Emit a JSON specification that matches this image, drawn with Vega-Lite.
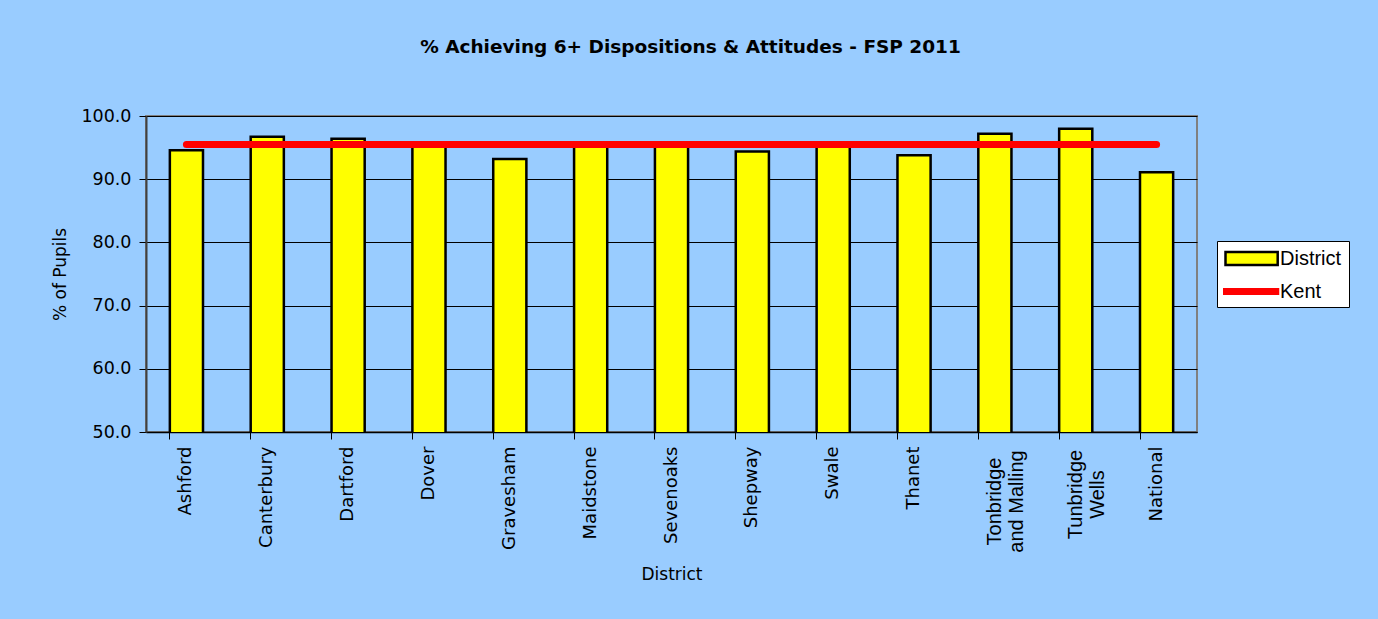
{
  "$schema": "https://vega.github.io/schema/vega-lite/v6.json",
  "width": 1051,
  "height": 316,
  "autosize": {"type": "none"},
  "padding": {"left": 146, "top": 116, "right": 181, "bottom": 187},
  "background": "#99CCFF",
  "config": {
    "font": "DejaVu Sans",
    "view": {"stroke": "#808080", "strokeWidth": 2, "fill": "#99CCFF"}
  },
  "title": {
    "text": "% Achieving 6+ Dispositions & Attitudes - FSP 2011",
    "font": "DejaVu Sans",
    "fontSize": 18.5,
    "fontWeight": "bold",
    "color": "#000000",
    "anchor": "middle",
    "dx": 19,
    "offset": 51
  },
  "data": {
    "values": [
      {"district": "Ashford", "value": 94.6, "kent": 95.5},
      {"district": "Canterbury", "value": 96.7, "kent": 95.5},
      {"district": "Dartford", "value": 96.4, "kent": 95.5},
      {"district": "Dover", "value": 95.8, "kent": 95.5},
      {"district": "Gravesham", "value": 93.2, "kent": 95.5},
      {"district": "Maidstone", "value": 95.7, "kent": 95.5},
      {"district": "Sevenoaks", "value": 95.7, "kent": 95.5},
      {"district": "Shepway", "value": 94.4, "kent": 95.5},
      {"district": "Swale", "value": 95.4, "kent": 95.5},
      {"district": "Thanet", "value": 93.8, "kent": 95.5},
      {"district": "Tonbridge and Malling", "value": 97.2, "kent": 95.5},
      {"district": "Tunbridge Wells", "value": 98.0, "kent": 95.5},
      {"district": "National", "value": 91.1, "kent": 95.5}
    ]
  },
  "encoding": {
    "x": {
      "field": "district",
      "type": "nominal",
      "sort": null,
      "scale": {"paddingInner": 0.59, "paddingOuter": 0.295},
      "axis": {
        "title": "District",
        "titleFont": "DejaVu Sans",
        "titleFontSize": 17,
        "titleFontWeight": "normal",
        "titleColor": "#000000",
        "titlePadding": 14,
        "labelAngle": -90,
        "labelFontSize": {"condition": {"test": "datum.value == 'Tonbridge and Malling' || datum.value == 'Tunbridge Wells'", "value": 20}, "value": 18},
        "labelFont": {"condition": {"test": "datum.value == 'Tonbridge and Malling' || datum.value == 'Tunbridge Wells'", "value": "Liberation Sans"}, "value": "DejaVu Sans"},
        "labelAlign": {"condition": {"test": "datum.value == 'Tonbridge and Malling' || datum.value == 'Tunbridge Wells'", "value": "center"}, "value": "right"},
        "labelPadding": {"condition": [
          {"test": "datum.value == 'Tonbridge and Malling'", "value": 62},
          {"test": "datum.value == 'Tunbridge Wells'", "value": 55}
        ], "value": 7},
        "labelColor": "#000000",
        "labelLineHeight": 22,
        "labelExpr": "datum.value == 'Tonbridge and Malling' ? ['Tonbridge', 'and Malling'] : datum.value == 'Tunbridge Wells' ? ['Tunbridge', 'Wells'] : datum.value",
        "bandPosition": 0,
        "tickColor": "#000000",
        "tickSize": 7,
        "domainColor": "#000000",
        "domainWidth": 1.5
      }
    }
  },
  "layer": [
    {
      "mark": {"type": "bar", "stroke": "#000000", "strokeWidth": 2.5, "clip": true},
      "encoding": {
        "y": {
          "field": "value",
          "type": "quantitative",
          "scale": {"domain": [50, 100], "nice": false, "zero": false},
          "axis": {
            "title": "% of Pupils",
            "titleFont": "DejaVu Sans",
            "titleFontSize": 17,
            "titleFontWeight": "normal",
            "titleColor": "#000000",
            "titlePadding": 11,
            "format": ".1f",
            "values": [50, 60, 70, 80, 90, 100],
            "labelFontSize": 17.5,
            "labelColor": "#000000",
            "labelPadding": 8,
            "tickColor": "#000000",
            "tickSize": 7,
            "domainColor": "#404040",
            "domainWidth": 2,
            "grid": true,
            "gridColor": "#000000",
            "gridWidth": 1,
            "gridOpacity": 1
          }
        },
        "fill": {
          "datum": "District",
          "scale": {"domain": ["District"], "range": ["#FFFF00"]},
          "legend": {
            "title": " ",
            "titleOrient": "bottom",
            "titleFontSize": 18,
            "titlePadding": 12,
            "orient": "none",
            "legendX": 1071,
            "legendY": 125,
            "zindex": 0,
            "fillColor": "#FFFFFF",
            "strokeColor": "#000000",
            "padding": 7,
            "labelFontSize": 20,
            "labelFont": "Liberation Sans",
            "labelColor": "#000000",
            "labelOffset": 35,
            "symbolSize": 324,
            "symbolType": "M-1,-0.72H4.8V0.72H-1Z",
            "symbolStrokeWidth": 2.5
          }
        }
      }
    },
    {
      "mark": {"type": "line", "strokeWidth": 7, "strokeCap": "round"},
      "encoding": {
        "y": {"field": "kent", "type": "quantitative"},
        "stroke": {
          "datum": "Kent",
          "scale": {"domain": ["Kent"], "range": ["#FF0000"]},
          "legend": {
            "title": null,
            "orient": "none",
            "legendX": 1071,
            "legendY": 156,
            "zindex": 1,
            "padding": 7,
            "labelFontSize": 20,
            "labelFont": "Liberation Sans",
            "labelColor": "#000000",
            "labelOffset": 31,
            "symbolSize": 324,
            "symbolType": "M-1.5,0H4.75",
            "symbolStrokeWidth": 7
          }
        }
      }
    }
  ]
}
